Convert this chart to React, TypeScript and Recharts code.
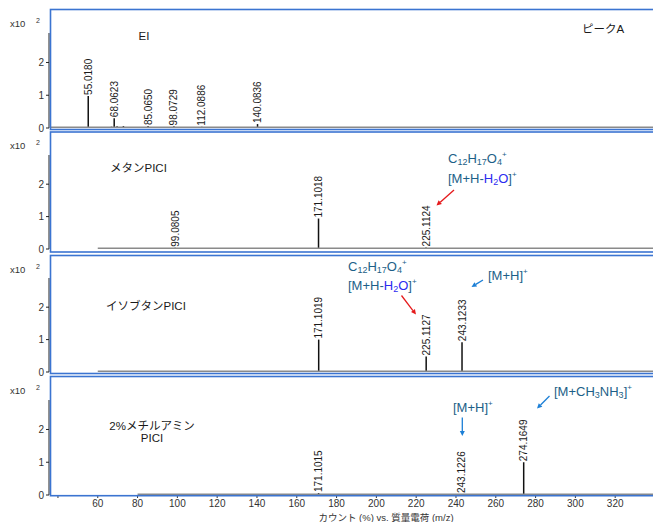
import React from 'react';
import { ComposedChart, Bar, XAxis, YAxis, ReferenceLine, LabelList } from 'recharts';

// ---------- data ----------
const X_DOMAIN: [number, number] = [35.5, 339];
const X_TICKS = [40, 60, 80, 100, 120, 140, 160, 180, 200, 220, 240, 260, 280, 300, 320];
const Y_TICKS = [0, 1, 2];
const Y_DOMAIN: [number, number] = [0, 2.9];

// EI
const eiMz = [41.0, 42.6, 55.018, 56.6, 66.7, 68.0623, 69.5, 72.7, 85.065, 94.7, 96.3, 98.0729, 112.0886, 125.5, 140.0836, 169.0];
const eiInt = [0.03, 0.02, 0.98, 0.03, 0.04, 0.3, 0.05, 0.06, 0.06, 0.03, 0.03, 0.05, 0.04, 0.02, 0.12, 0.02];
const eiLabel = ['', '', '55.0180', '', '', '68.0623', '', '', '85.0650', '', '', '98.0729', '112.0886', '', '140.0836', ''];

// Methane PICI
const meMz = [71.0, 80.0, 99.0805, 136.5, 140.0, 150.7, 169.0, 171.1018, 198.0, 212.0, 225.1124, 243.6];
const meInt = [0.02, 0.03, 0.04, 0.02, 0.02, 0.02, 0.03, 0.94, 0.02, 0.02, 0.05, 0.02];
const meLabel = ['', '', '99.0805', '', '', '', '', '171.1018', '', '', '225.1124', ''];

// Isobutane PICI
const isoMz = [171.1019, 225.1127, 243.1233];
const isoInt = [1.0, 0.48, 0.92];
const isoLabel = ['171.1019', '225.1127', '243.1233'];

// 2% methylamine PICI
const maMz = [100.0, 171.1015, 225.0, 243.1226, 274.1649];
const maInt = [0.02, 0.06, 0.02, 0.03, 1.0];
const maLabel = ['', '171.1015', '', '243.1226', '274.1649'];

// noise baseline start (m/z)
const noiseStart = [36, 60, 60, 80];

const toRows = (mz: number[], inten: number[], label: string[]) =>
  mz.map((m, i) => ({ mz: m, inten: inten[i], label: label[i] }));

const panelsData = [
  toRows(eiMz, eiInt, eiLabel),
  toRows(meMz, meInt, meLabel),
  toRows(isoMz, isoInt, isoLabel),
  toRows(maMz, maInt, maLabel),
];

// ---------- styling / layout ----------
const FONT = "'Liberation Sans', Arial, 'Noto Sans CJK JP', sans-serif";
const BLUE = '#3b74d1';
const TEAL = '#1d5f88';
const PURE_BLUE = '#2b2bf0';
const RED = '#e5191b';
const ARROW_BLUE = '#1c7fd6';

// plot top / zero line for each panel
const plotTops = [33, 155, 278, 400];
const plotBottoms = [128, 249, 372, 495];
const panelTops = [9.5, 132, 255.5, 376.5];
const panelBottoms = [129.5, 252, 373.5, 495.7];

const renderPeakLabel = (props: any) => {
  const { x, y, width, value } = props;
  if (!value) return null;
  const cx = Number(x) + Number(width) / 2 + 3.5;
  const cy = Number(y) - 1;
  return (
    <text
      x={cx}
      y={cy}
      transform={`rotate(-90 ${cx} ${cy})`}
      fontSize={10}
      fill="#1a1a1a"
      fontFamily={FONT}
      textAnchor="start"
    >
      {value}
    </text>
  );
};

const Panel = ({ idx }: { idx: number }) => {
  const isLast = idx === 3;
  const marginTop = 30;
  const marginBottom = isLast ? 0 : 8;
  const xAxisH = isLast ? 20 : 0;
  const plotH = plotBottoms[idx] - plotTops[idx];
  const height = marginTop + plotH + xAxisH + marginBottom;
  return (
    <div style={{ position: 'absolute', left: 0, top: plotTops[idx] - marginTop }}>
      <ComposedChart
        width={653}
        height={height}
        data={panelsData[idx]}
        margin={{ top: marginTop, right: 0, bottom: marginBottom, left: 29 }}
        barGap={0}
      >
        <XAxis
          type="number"
          dataKey="mz"
          domain={X_DOMAIN}
          allowDataOverflow
          ticks={X_TICKS}
          interval={0}
          hide={!isLast}
          height={xAxisH}
          axisLine={false}
          tickLine={{ stroke: '#333' }}
          tickSize={3}
          tickMargin={2}
          tick={{ fontSize: 10, fill: '#333', fontFamily: FONT }}
          tickFormatter={(v: number) => (v === 40 ? '' : String(v))}
        />
        <YAxis
          type="number"
          domain={Y_DOMAIN}
          ticks={Y_TICKS}
          interval={0}
          width={20}
          allowDataOverflow
          axisLine={{ stroke: '#222' }}
          tickLine={{ stroke: '#222' }}
          tickSize={3}
          tickMargin={2}
          tick={{ fontSize: 10, fill: '#333', fontFamily: FONT }}
        />
        <ReferenceLine
          segment={[
            { x: noiseStart[idx], y: 0.02 },
            { x: 339, y: 0.02 },
          ]}
          stroke="#8a8a8a"
          strokeWidth={1.6}
          ifOverflow="hidden"
        />
        <Bar dataKey="inten" fill="#111" barSize={1.5} isAnimationActive={false}>
          <LabelList dataKey="label" content={renderPeakLabel} />
        </Bar>
      </ComposedChart>
    </div>
  );
};

const Arrow = ({ x1, y1, x2, y2, color }: any) => {
  const ang = Math.atan2(y2 - y1, x2 - x1);
  const L = 5;
  const W = 2.5;
  const bx = x2 - L * Math.cos(ang);
  const by = y2 - L * Math.sin(ang);
  const px = -Math.sin(ang) * W;
  const py = Math.cos(ang) * W;
  return (
    <g>
      <line x1={x1} y1={y1} x2={bx} y2={by} stroke={color} strokeWidth={1.3} />
      <polygon points={`${x2},${y2} ${bx + px},${by + py} ${bx - px},${by - py}`} fill={color} />
    </g>
  );
};

const Formula = ({ x, y }: { x: number; y: number }) => (
  <text x={x} y={y} fontSize={13} fill={TEAL} fontFamily={FONT}>
    C<tspan fontSize={9} dy={2}>12</tspan>
    <tspan dy={-2}>H</tspan>
    <tspan fontSize={9} dy={2}>17</tspan>
    <tspan dy={-2}>O</tspan>
    <tspan fontSize={9} dy={2}>4</tspan>
    <tspan fontSize={8} dy={-8}>+</tspan>
  </text>
);

const Water = ({ x, y }: { x: number; y: number }) => (
  <text x={x} y={y} fontSize={13} fill={TEAL} fontFamily={FONT}>
    [M+H-<tspan fill={PURE_BLUE}>H</tspan>
    <tspan fill={PURE_BLUE} fontSize={9} dy={2}>2</tspan>
    <tspan fill={PURE_BLUE} dy={-2}>O</tspan>]
    <tspan fontSize={8} dy={-6}>+</tspan>
  </text>
);

const MH = ({ x, y }: { x: number; y: number }) => (
  <text x={x} y={y} fontSize={13} fill={TEAL} fontFamily={FONT}>
    [M+H]<tspan fontSize={8} dy={-6}>+</tspan>
  </text>
);

const Overlay = () => (
  <svg
    width={653}
    height={522}
    style={{ position: 'absolute', left: 0, top: 0, pointerEvents: 'none' }}
  >
    {panelTops.map((t, i) => (
      <rect
        key={i}
        x={50.5}
        y={t}
        width={700}
        height={panelBottoms[i] - t}
        fill="none"
        stroke={BLUE}
        strokeWidth={1.6}
      />
    ))}
    {panelTops.map((t, i) => (
      <g key={'x' + i} fontFamily={FONT} fill="#333">
        <text x={10} y={t + 17} fontSize={9.5}>x10</text>
        <text x={36} y={t + 13} fontSize={7}>2</text>
      </g>
    ))}
    <g fontFamily={FONT} fill="#1a1a1a" fontSize={11.5}>
      <text x={138.5} y={39.5}>EI</text>
      <text x={582} y={33}>ピークA</text>
      <text x={110} y={171.5}>メタンPICI</text>
      <text x={106} y={310}>イソブタンPICI</text>
      <text x={152} y={429.5} textAnchor="middle">2%メチルアミン</text>
      <text x={152} y={442} textAnchor="middle">PICI</text>
    </g>
    {/* panel 2 annotations */}
    <Formula x={448} y={163.3} />
    <Water x={448} y={183} />
    <Arrow x1={454} y1={190} x2={436.5} y2={205.5} color={RED} />
    {/* panel 3 annotations */}
    <Formula x={348} y={271} />
    <Water x={348} y={290} />
    <Arrow x1={401.5} y1={295.5} x2={416} y2={314.5} color={RED} />
    <MH x={488} y={280} />
    <Arrow x1={483} y1={280} x2={471.5} y2={287} color={ARROW_BLUE} />
    {/* panel 4 annotations */}
    <MH x={453} y={411.5} />
    <Arrow x1={462.3} y1={417.5} x2={462.3} y2={436} color={ARROW_BLUE} />
    <text x={554} y={395.5} fontSize={13} fill={TEAL} fontFamily={FONT}>
      [M+CH<tspan fontSize={9} dy={2}>3</tspan>
      <tspan dy={-2}>NH</tspan>
      <tspan fontSize={9} dy={2}>3</tspan>
      <tspan dy={-2}>]</tspan>
      <tspan fontSize={8} dy={-6}>+</tspan>
    </text>
    <Arrow x1={549.5} y1={396} x2={537} y2={408.5} color={ARROW_BLUE} />
    <text x={386} y={520.5} fontSize={9.5} fill="#333" fontFamily={FONT} textAnchor="middle">
      カウント (%) vs. 質量電荷 (m/z)
    </text>
  </svg>
);

export default function App() {
  return (
    <div
      style={{
        position: 'absolute',
        left: 0,
        top: 0,
        width: 653,
        height: 522,
        overflow: 'hidden',
        background: '#fff',
      }}
    >
      {[0, 1, 2, 3].map((i) => (
        <Panel key={i} idx={i} />
      ))}
      <Overlay />
    </div>
  );
}
